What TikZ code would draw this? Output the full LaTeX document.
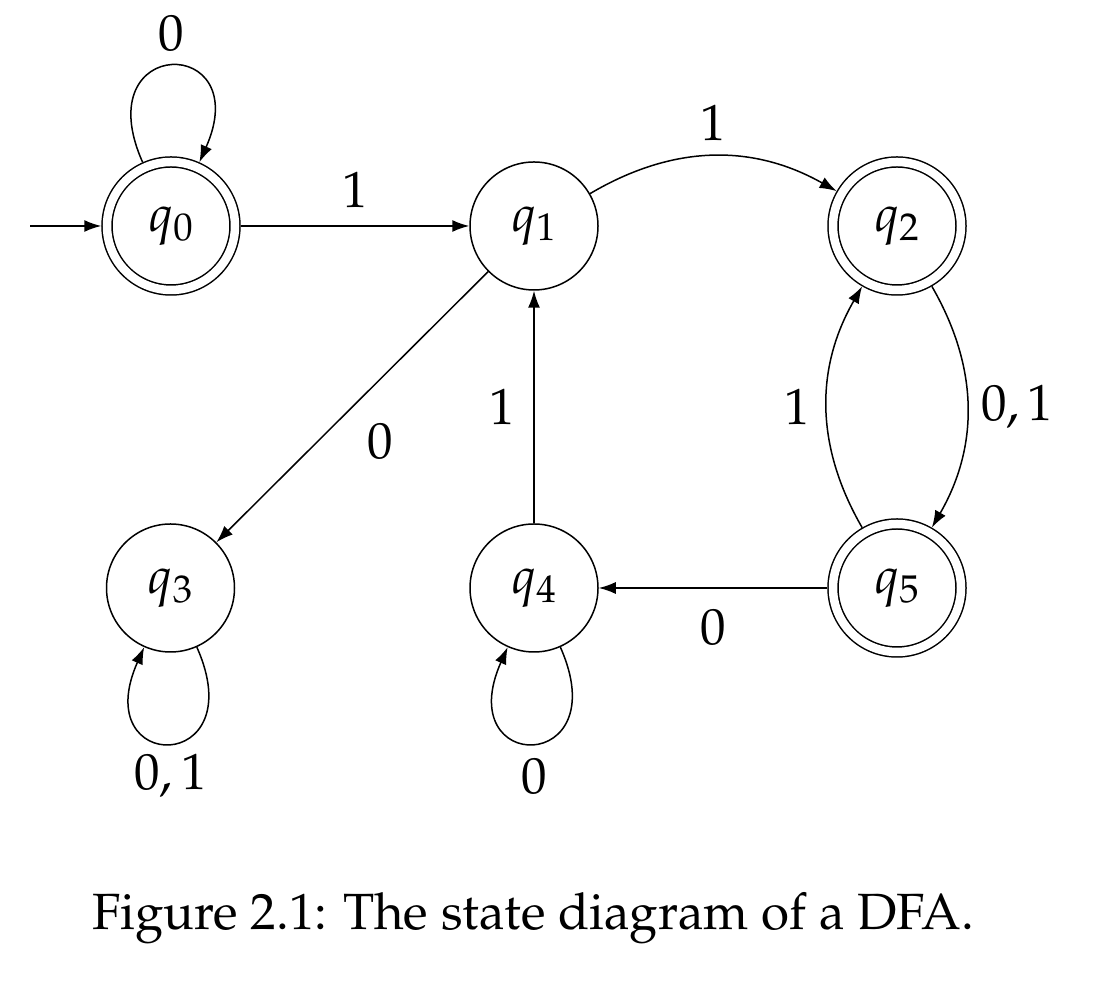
\documentclass[tikz,border=0pt]{standalone}
\usepackage[T1]{fontenc}
\usepackage{mathpazo}
\usetikzlibrary{arrows.meta}
\begin{document}
\begin{tikzpicture}[
  every node/.style={font=\fontsize{29}{34}\selectfont},
  state/.style={circle, draw, line width=0.03cm, minimum size=2.56cm, inner sep=0pt, outer sep=0.015cm},
  accept/.style={state, double, double distance=0.17cm, outer sep=0.115cm},
  lab/.style={inner sep=0pt, anchor=center},
  arr/.style={line width=0.03cm, -{Latex[length=0.34cm,width=0.24cm]}},
]
\useasboundingbox (0,0) rectangle (21.88,20.04);
\node[accept] (q0) at (3.42,15.52) {$q_0$};
\node[state]  (q1) at (10.68,15.52) {$q_1$};
\node[accept] (q2) at (17.94,15.52) {$q_2$};
\node[state]  (q3) at (3.41,8.28) {$q_3$};
\node[state]  (q4) at (10.68,8.28) {$q_4$};
\node[accept] (q5) at (17.94,8.28) {$q_5$};
\coordinate (init) at (0.6,15.52);
\draw[arr] (init) -- (q0);
\draw[arr] (q0) to[out=114,in=66,distance=2.8cm] node[lab,yshift=0.66cm]{$0$} (q0);
\draw[arr] (q0) -- node[lab,yshift=0.72cm]{$1$} (q1);
\draw[arr] (q1) to[bend left=30] node[lab,yshift=0.66cm]{$1$} (q2);
\draw[arr] (q1) -- node[lab,xshift=0.56cm,yshift=-0.7cm]{$0$} (q3);
\draw[arr] (q4) -- node[lab,xshift=-0.64cm]{$1$} (q1);
\draw[arr] (q5) -- node[lab,yshift=-0.8cm]{$0$} (q4);
\draw[arr] (q2) to[bend left=30] node[lab,xshift=1.0cm]{$0,1$} (q5);
\draw[arr] (q5) to[bend left=30] node[lab,xshift=-0.6cm]{$1$} (q2);
\draw[arr] (q3) to[out=-66,in=-114,distance=2.8cm] node[lab,yshift=-0.66cm]{$0,1$} (q3);
\draw[arr] (q4) to[out=-66,in=-114,distance=2.8cm] node[lab,yshift=-0.66cm]{$0$} (q4);
\node[anchor=base] (cap) at (10.66,1.44) {Figure 2.1: The state diagram of a DFA.};
\end{tikzpicture}
\end{document}
